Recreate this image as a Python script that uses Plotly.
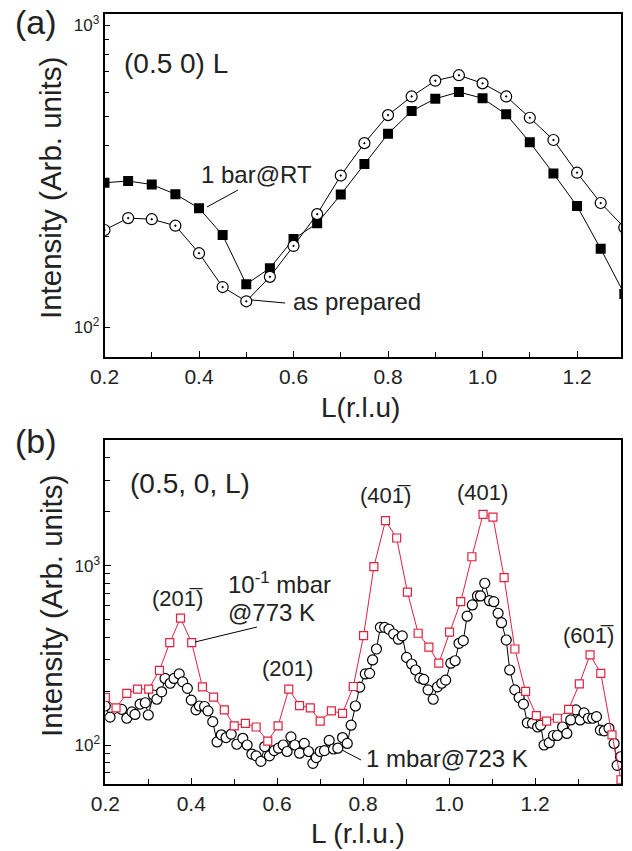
import plotly.graph_objects as go

W, H = 632, 851

# ---------------- Panel (a) data ----------------
L_a = [0.20, 0.25, 0.30, 0.35, 0.40, 0.45, 0.50, 0.55, 0.60, 0.65, 0.70, 0.75,
       0.80, 0.85, 0.90, 0.95, 1.00, 1.05, 1.10, 1.15, 1.20, 1.25, 1.30]
bar_RT = [301, 305, 297, 276, 248, 202, 139, 157, 196, 221, 275, 347,
          437, 520, 571, 601, 573, 507, 410, 323, 252, 182, 129]
as_prepared = [210, 230, 228, 217, 176, 136, 122, 147, 186, 237, 318, 407,
               504, 581, 655, 683, 642, 581, 494, 417, 325, 258, 214]

# ---------------- Panel (b) data ----------------
L_red = [0.178, 0.200, 0.225, 0.250, 0.275, 0.301, 0.326, 0.350, 0.375, 0.401, 0.426,
         0.452, 0.477, 0.500, 0.526, 0.551, 0.578, 0.602, 0.627, 0.652, 0.677,
         0.700, 0.726, 0.752, 0.777, 0.801, 0.825, 0.852, 0.878, 0.903, 0.928,
         0.953, 0.976, 1.001, 1.027, 1.053, 1.079, 1.102, 1.128, 1.153, 1.178,
         1.203, 1.227, 1.252, 1.278, 1.303, 1.328, 1.353, 1.379, 1.400]
I_red = [194, 184, 161, 194, 205, 205, 261, 372, 510, 372, 211,
         185, 157, 128, 132, 126, 105, 128, 205, 166, 161,
         136, 155, 150, 212, 407, 987, 1782, 1427, 713, 420,
         351, 286, 426, 630, 1122, 1935, 1864, 858, 343, 199,
         146, 136, 141, 158, 219, 318, 251, 114, 64]

L_blk = [0.200, 0.211, 0.238, 0.250, 0.262, 0.269, 0.281, 0.293, 0.300, 0.312,
         0.320, 0.331, 0.339, 0.351, 0.360, 0.372, 0.380, 0.391, 0.400, 0.411,
         0.419, 0.431, 0.439, 0.450, 0.460, 0.470, 0.481, 0.493, 0.506, 0.520,
         0.530, 0.541, 0.551, 0.562, 0.571, 0.582, 0.593, 0.603, 0.614, 0.623,
         0.632, 0.641, 0.652, 0.663, 0.673, 0.683, 0.691, 0.700, 0.710, 0.721,
         0.731, 0.741, 0.752, 0.763, 0.772, 0.782, 0.792, 0.805, 0.815, 0.822,
         0.831, 0.840, 0.850, 0.860, 0.871, 0.882, 0.891, 0.901, 0.913, 0.922,
         0.932, 0.941, 0.951, 0.963, 0.973, 0.983, 0.992, 1.004, 1.014, 1.023,
         1.033, 1.042, 1.054, 1.066, 1.073, 1.083, 1.094, 1.104, 1.114, 1.122,
         1.133, 1.141, 1.153, 1.163, 1.173, 1.182, 1.194, 1.206, 1.213, 1.221,
         1.233, 1.243, 1.252, 1.264, 1.274, 1.283, 1.295, 1.305, 1.314, 1.324,
         1.334, 1.343, 1.352, 1.361, 1.372, 1.384, 1.391, 1.399]
I_blk = [165, 143, 158, 141, 153, 148, 169, 172, 147, 190,
         180, 198, 235, 221, 235, 249, 225, 207, 178, 157,
         165, 164, 155, 135, 104, 114, 110, 115, 101, 109,
         100, 89, 87, 81, 98, 87, 93, 96, 100, 92,
         111, 100, 90, 102, 92, 79, 85, 92, 93, 106,
         95, 96, 110, 102, 129, 165, 210, 249, 251, 298,
         343, 453, 453, 442, 416, 389, 406, 308, 283, 262,
         236, 232, 203, 180, 211, 221, 230, 286, 295, 369,
         382, 523, 604, 678, 678, 798, 638, 630, 543, 481,
         385, 262, 203, 184, 169, 133, 132, 126, 129, 100,
         103, 113, 113, 126, 116, 138, 157, 138, 151, 141,
         141, 144, 121, 120, 124, 102, 77, 86]

x_ticks = [0.2, 0.4, 0.6, 0.8, 1.0, 1.2, 1.4]
x_ticktext = ["0.2", "0.4", "0.6", "0.8", "1.0", "1.2", "1.4"]
y_ticks = [100, 1000]
y_ticktext = ["10<sup>2</sup>", "10<sup>3</sup>"]

RED = "#e2213f"
FONT = "Arial, Liberation Sans, Helvetica, sans-serif"


def P(x, y):
    """pixel -> paper coordinates"""
    return x / W, 1 - y / H


fig = go.Figure()

# Panel (a)
fig.add_trace(go.Scatter(x=L_a, y=bar_RT, mode="lines+markers", xaxis="x", yaxis="y",
                         line=dict(color="black", width=1),
                         marker=dict(symbol="square", size=10, color="black",
                                     line=dict(color="black", width=0)),
                         showlegend=False))
fig.add_trace(go.Scatter(x=L_a, y=as_prepared, mode="lines+markers", xaxis="x", yaxis="y",
                         line=dict(color="black", width=1),
                         marker=dict(symbol="circle-dot", size=11, color="white",
                                     line=dict(color="black", width=1.2)),
                         showlegend=False))

# Panel (b)
fig.add_trace(go.Scatter(x=L_blk, y=I_blk, mode="lines+markers", xaxis="x2", yaxis="y2",
                         line=dict(color="black", width=1),
                         marker=dict(symbol="circle", size=10, color="white",
                                     line=dict(color="black", width=1.2)),
                         showlegend=False))
fig.add_trace(go.Scatter(x=L_red, y=I_red, mode="lines+markers", xaxis="x2", yaxis="y2",
                         line=dict(color=RED, width=1),
                         marker=dict(symbol="square", size=8, color="white",
                                     line=dict(color=RED, width=1.2)),
                         showlegend=False))

axis_common = dict(showline=True, linecolor="black", linewidth=1.5, mirror=True,
                   ticks="inside", ticklen=6, tickwidth=1.3, tickcolor="black",
                   showgrid=False, zeroline=False, automargin=False)

xa = dict(axis_common, tickvals=x_ticks, ticktext=x_ticktext,
          tickfont=dict(family=FONT, size=21, color="#222"),
          minor=dict(dtick=0.1, tick0=0.2, ticks="inside", ticklen=5, tickwidth=1.3,
                     tickcolor="black"))

fig.update_layout(
    width=W, height=H,
    margin=dict(l=0, r=0, t=0, b=0, autoexpand=False),
    paper_bgcolor="white", plot_bgcolor="white",
    font=dict(family=FONT, color="#222"),
    xaxis=dict(xa, domain=[104.5 / W, 621 / W], range=[0.2, 1.293], anchor="y"),
    yaxis=dict(axis_common, type="log", domain=[1 - 356.7 / H, 1 - 14 / H],
               range=[1.903, 3.037], anchor="x",
               tickvals=y_ticks, ticktext=y_ticktext,
               tickfont=dict(family=FONT, size=17, color="#222"),
               minor=dict(tickvals=[200, 300, 400, 500, 600, 700, 800, 900],
                          ticks="inside", ticklen=5, tickwidth=1.3, tickcolor="black")),
    xaxis2=dict(xa, domain=[105.3 / W, 621 / W], range=[0.2, 1.4], anchor="y2"),
    yaxis2=dict(axis_common, type="log", domain=[1 - 784 / H, 1 - 440 / H],
                range=[1.7825, 3.701], anchor="x2",
                tickvals=y_ticks, ticktext=y_ticktext,
                tickfont=dict(family=FONT, size=17, color="#222"),
                minor=dict(tickvals=[70, 80, 90, 200, 300, 400, 500, 600, 700, 800, 900,
                                     2000, 3000, 4000],
                           ticks="inside", ticklen=5, tickwidth=1.3, tickcolor="black")),
)

annots = []


def txt(x, y, s, size, xanchor="center", angle=0):
    px_, py_ = P(x, y)
    annots.append(dict(x=px_, y=py_, xref="paper", yref="paper", text=s, showarrow=False,
                       xanchor=xanchor, yanchor="middle", textangle=angle,
                       font=dict(family=FONT, size=size, color="#222")))


# panel labels
txt(36, 22, "(a)", 34)
txt(36, 441, "(b)", 34)
# axis titles
txt(50, 188, "Intensity (Arb. units)", 29.5, angle=-90)
txt(51, 606, "Intensity (Arb. units)", 29.5, angle=-90)
txt(360, 407, "L(r.l.u)", 28)
txt(358, 833, "L (r.l.u.)", 28)
# panel (a) text
txt(176, 64, "(0.5 0) L", 28)
txt(199, 175, "1 bar@RT", 24, xanchor="left")
txt(291, 302, "as prepared", 24, xanchor="left")
# panel (b) text
txt(190, 483, "(0.5, 0, L)", 28)
txt(177, 598, "(201\u0305)", 22)
txt(226, 583, "10<sup>-1</sup> mbar", 24, xanchor="left")
txt(226, 612, "@773 K", 24, xanchor="left")
txt(287, 668, "(201)", 22)
txt(385, 495, "(401\u0305)", 22)
txt(482, 492, "(401)", 22)
txt(588, 635, "(601\u0305)", 22)
txt(364, 758, "1 mbar@723 K", 24, xanchor="left")

shapes = []


def seg(x0, y0, x1, y1):
    a0, b0 = P(x0, y0)
    a1, b1 = P(x1, y1)
    shapes.append(dict(type="line", xref="paper", yref="paper", x0=a0, y0=b0, x1=a1, y1=b1,
                       line=dict(color="black", width=1)))


seg(238, 190, 207, 207)
seg(285, 303, 252, 300)
seg(257, 627, 195, 642)
seg(361, 760, 342, 750)

fig.update_layout(annotations=annots, shapes=shapes)

fig.write_html("out.html", config={"displayModeBar": False},
               post_script="document.body.style.margin='0';")
